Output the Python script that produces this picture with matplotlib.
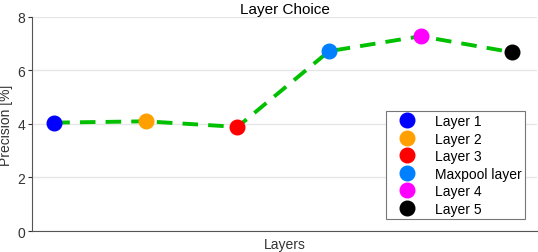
import matplotlib.pyplot as plt

plt.rcParams['font.family'] = ['Liberation Sans', 'DejaVu Sans']

labels = ['Layer 1', 'Layer 2', 'Layer 3', 'Maxpool layer', 'Layer 4', 'Layer 5']
precision = [4.05, 4.10, 3.89, 6.72, 7.28, 6.68]
colors = ['#0000ff', '#ffa000', '#ff0000', '#0080ff', '#ff00ff', '#000000']

fig = plt.figure(figsize=(5.38, 2.53), dpi=100)
ax = fig.add_axes([0.06, 0.083, 0.938, 0.846])

x = list(range(1, len(precision) + 1))
ax.plot(x, precision, '--', color='#00c000', lw=2.8, dashes=(4, 2.6), zorder=2)
for xi, yi, c, lab in zip(x, precision, colors, labels):
    ax.plot(xi, yi, 'o', color=c, markersize=10.5, label=lab, zorder=3)

ax.set_xlim(0.76, 6.27)
ax.set_ylim(0, 8)
ax.set_yticks([0, 2, 4, 6, 8])
ax.set_xticks([])
ax.grid(True, axis='y', color='#e6e6e6', lw=1)
ax.set_axisbelow(True)
for s in ['top', 'right']:
    ax.spines[s].set_visible(False)
for s in ['left', 'bottom']:
    ax.spines[s].set_color('#555555')
ax.tick_params(axis='y', labelsize=10, colors='#333333', length=3, pad=2)

ax.set_title('Layer Choice', fontsize=11, pad=3)
ax.set_xlabel('Layers', fontsize=10, color='#333333', labelpad=4)
ax.set_ylabel('Precision [%]', fontsize=10, color='#333333', labelpad=3)

leg = ax.legend(loc='lower right', bbox_to_anchor=(0.977, 0.056), fontsize=10,
                fancybox=False, framealpha=1, edgecolor='#777777',
                handletextpad=0.8, borderpad=0.25, labelspacing=0.25,
                handlelength=2.5, borderaxespad=0)
leg.get_frame().set_linewidth(0.8)

plt.savefig('out.png', dpi=100)
